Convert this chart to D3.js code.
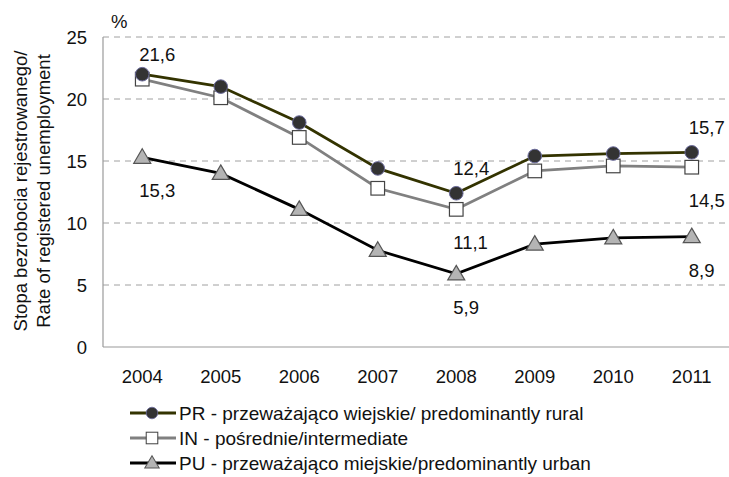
<!DOCTYPE html>
<html>
<head>
<meta charset="utf-8">
<script src="https://cdn.jsdelivr.net/npm/d3@7"></script>
<style>
  body { margin: 0; background: #fff; }
  text { font-family: "Liberation Sans", Arial, sans-serif; font-size: 18.5px; fill: #111; }
  .legend text { font-size: 19px; }
</style>
</head>
<body>
<svg id="chart" width="729" height="477"></svg>
<script>
  const years = ["2004", "2005", "2006", "2007", "2008", "2009", "2010", "2011"];
  const pr = [22.0, 21.0, 18.1, 14.4, 12.4, 15.4, 15.6, 15.7];
  const inter = [21.6, 20.1, 16.9, 12.8, 11.1, 14.2, 14.6, 14.5];
  const pu = [15.3, 14.0, 11.1, 7.8, 5.9, 8.3, 8.8, 8.9];
  const yTicks = [0, 5, 10, 15, 20, 25];
  const legendNames = [
    "PR - przeważająco wiejskie/ predominantly rural",
    "IN - pośrednie/intermediate",
    "PU - przeważająco miejskie/predominantly urban"
  ];
  // które punkty mają etykiety: [seria, indeks roku, nad/pod]
  const labelSpec = [
    ["IN", 0, "above"], ["PU", 0, "below"],
    ["PR", 4, "above"], ["IN", 4, "below"], ["PU", 4, "below"],
    ["PR", 7, "above"], ["IN", 7, "below"], ["PU", 7, "below"]
  ];

  const series = [
    { key: "PR", values: pr, name: legendNames[0], line: "#333300", marker: "circle" },
    { key: "IN", values: inter, name: legendNames[1], line: "#808080", marker: "square" },
    { key: "PU", values: pu, name: legendNames[2], line: "#000000", marker: "triangle" }
  ];
  const byKey = new Map(series.map((s) => [s.key, s]));

  const svg = d3.select("#chart");
  const x = d3.scaleBand().domain(years).range([103, 731]);
  const y = d3.scaleLinear().domain([0, 25]).range([347, 37]);
  const cx = (i) => x(years[i]) + x.bandwidth() / 2;

  // siatka
  svg.selectAll(".grid")
    .data(yTicks.filter((t) => t > 0))
    .enter()
    .append("line")
    .attr("x1", 103).attr("x2", 729)
    .attr("y1", (d) => y(d)).attr("y2", (d) => y(d))
    .attr("stroke", "#a0a0a0")
    .attr("stroke-width", 1)
    .attr("stroke-dasharray", "6,5");

  svg.append("line")
    .attr("x1", 103).attr("x2", 103).attr("y1", y(25)).attr("y2", y(0))
    .attr("stroke", "#9a9a9a").attr("stroke-width", 1.2);
  svg.append("line")
    .attr("x1", 103).attr("x2", 729).attr("y1", y(0)).attr("y2", y(0))
    .attr("stroke", "#9a9a9a").attr("stroke-width", 1.2);

  svg.selectAll(".ytick")
    .data(yTicks)
    .enter()
    .append("text")
    .attr("x", 87)
    .attr("y", (d) => y(d) + 7)
    .attr("text-anchor", "end")
    .text((d) => d);

  svg.selectAll(".xtick")
    .data(years)
    .enter()
    .append("text")
    .attr("x", (d) => x(d) + x.bandwidth() / 2)
    .attr("y", 383)
    .attr("text-anchor", "middle")
    .text((d) => d);

  svg.append("text").attr("x", 111).attr("y", 28).text("%");

  const yTitle = svg.append("text")
    .attr("transform", "translate(0,191) rotate(-90)")
    .attr("text-anchor", "middle");
  yTitle.append("tspan").attr("x", 0).attr("y", 27).text("Stopa bezrobocia rejestrowanego/");
  yTitle.append("tspan").attr("x", 0).attr("y", 50).text("Rate of registered unemployment");

  function drawMarker(g, type) {
    if (type === "circle") {
      g.append("circle").attr("r", 6.8)
        .attr("fill", "#333333").attr("stroke", "#6a6a9a").attr("stroke-width", 1);
    } else if (type === "square") {
      g.append("rect").attr("x", -6.8).attr("y", -6.8).attr("width", 13.6).attr("height", 13.6)
        .attr("fill", "#ffffff").attr("stroke", "#444").attr("stroke-width", 1.2);
    } else {
      g.append("path").attr("d", "M0,-8.5L8.5,6L-8.5,6Z")
        .attr("fill", "#b4b4b4").attr("stroke", "#555").attr("stroke-width", 1.2);
    }
  }

  const line = d3.line().x((d, i) => cx(i)).y((d) => y(d));

  // PU, IN, PR (PR na wierzchu)
  [series[2], series[1], series[0]].forEach((s) => {
    svg.append("path")
      .datum(s.values)
      .attr("d", line)
      .attr("fill", "none")
      .attr("stroke", s.line)
      .attr("stroke-width", 2.8);
  });
  [series[2], series[1], series[0]].forEach((s) => {
    s.values.forEach((v, i) => {
      const g = svg.append("g").attr("transform", `translate(${cx(i)},${y(v)})`);
      drawMarker(g, s.marker);
    });
  });

  // etykiety danych
  labelSpec.forEach(([key, i, pos]) => {
    const s = byKey.get(key);
    const v = s.values[i];
    svg.append("text")
      .attr("x", cx(i) - 3)
      .attr("y", pos === "above" ? y(v) - 18 : y(v) + 40)
      .text(d3.format(".1f")(v).replace(".", ","));
  });

  // legenda
  const legend = svg.selectAll(".legend")
    .data(series)
    .enter()
    .append("g")
    .attr("class", "legend")
    .attr("transform", (d, i) => `translate(130,${413 + i * 25})`);
  legend.append("line")
    .attr("x1", 0).attr("x2", 46).attr("y1", 0).attr("y2", 0)
    .attr("stroke", (d) => d.line).attr("stroke-width", 2.8);
  legend.each(function (d) {
    const g = d3.select(this).append("g").attr("transform", "translate(22,0) scale(0.85)");
    drawMarker(g, d.marker);
  });
  legend.append("text")
    .attr("x", 49).attr("y", 7)
    .text((d) => d.name);
</script>
</body>
</html>
